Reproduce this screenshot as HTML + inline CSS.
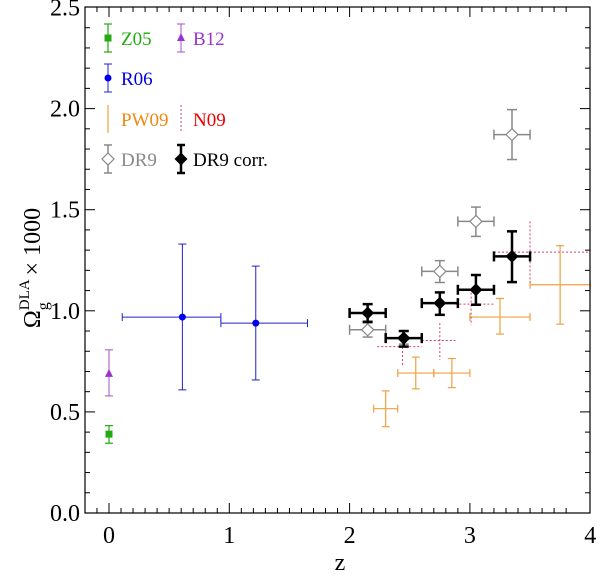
<!DOCTYPE html>
<html><head><meta charset="utf-8"><style>
html,body{margin:0;padding:0;background:#fff;}
svg, svg text{font-family:"Liberation Serif","DejaVu Serif",serif !important;}
</style></head><body>
<svg id="chart" width="600" height="575" viewBox="0 0 600 575" xmlns="http://www.w3.org/2000/svg" font-family="Liberation Serif, serif">
<g id="marks"></g>
<g id="axes"></g>
<text x="340" y="570" font-size="24" text-anchor="middle" font-family="Liberation Serif, serif">z</text>
<g transform="translate(40,268) rotate(-90)">
<text x="0" y="0" font-size="24" text-anchor="middle" font-family="Liberation Serif, serif">Ω<tspan font-size="16" dy="8">g</tspan><tspan font-size="15" dy="-19" dx="-8">DLA</tspan><tspan font-size="24" dy="11" dx="4">× 1000</tspan></text>
</g>
<g id="legend"></g>
</svg>
<script>
const NS="http://www.w3.org/2000/svg";
const xTicks=[0,1,2,3,4];
const yTicks=[0.0,0.5,1.0,1.5,2.0,2.5];
const z05Z=[0.0], z05O=[0.39], z05Lo=[0.345], z05Hi=[0.432];
const b12Z=[0.0], b12O=[0.688], b12Lo=[0.579], b12Hi=[0.807];
const r06Z=[0.61,1.22], r06O=[0.969,0.939], r06ZLo=[0.11,0.93], r06ZHi=[0.93,1.65], r06Lo=[0.609,0.658], r06Hi=[1.33,1.221];
const pwZ=[2.30,2.55,2.85,3.25,3.75], pwO=[0.516,0.692,0.692,0.969,1.129], pwZLo=[2.2,2.4,2.7,3.0,3.5], pwZHi=[2.4,2.7,3.0,3.5,4.0], pwLo=[0.427,0.614,0.62,0.885,0.934], pwHi=[0.604,0.771,0.764,1.061,1.322];
const n09Z=[2.44,2.75,3.01,3.5], n09O=[0.823,0.853,1.033,1.29], n09ZLo=[2.23,2.6,2.88,3.2], n09ZHi=[2.6,2.88,3.2,4.0], n09Lo=[0.725,0.757,0.93,1.137], n09Hi=[0.9,0.939,1.09,1.442];
const dr9Z=[2.15,2.45,2.75,3.05,3.35], dr9O=[0.906,0.865,1.195,1.442,1.871], dr9ZLo=[2.0,2.3,2.6,2.9,3.2], dr9ZHi=[2.3,2.6,2.9,3.2,3.5], dr9Lo=[0.87,0.835,1.14,1.368,1.748], dr9Hi=[0.95,0.9,1.248,1.513,1.995];
const dcZ=[2.15,2.45,2.75,3.05,3.35], dcO=[0.989,0.865,1.038,1.104,1.269], dcZLo=[2.0,2.3,2.6,2.9,3.2], dcZHi=[2.3,2.6,2.9,3.2,3.5], dcLo=[0.944,0.823,0.98,1.03,1.142], dcHi=[1.033,0.9,1.091,1.177,1.393];

const L=85,R=590,T=7,B=513;
const FF="Liberation Serif, serif";
function X(z){return 109+z*120.3;}
function Y(o){return 513-o*202.2;}
function el(tag,attrs,parent){const e=document.createElementNS(NS,tag);for(const k in attrs)e.setAttribute(k,attrs[k]);parent.appendChild(e);return e;}
const marks=document.getElementById('marks'), axes=document.getElementById('axes'), leg=document.getElementById('legend');

function errBar(parent,x,y,x1,x2,y1,y2,color,w,cap,dash){
  const g=el('g',{stroke:color,'stroke-width':w,fill:'none'},parent);
  if(dash)g.setAttribute('stroke-dasharray',dash);
  if(y1!==null){el('line',{x1:x,x2:x,y1:y1,y2:y2},g);
    if(cap){el('line',{x1:x-cap,x2:x+cap,y1:y1,y2:y1},g);el('line',{x1:x-cap,x2:x+cap,y1:y2,y2:y2},g);}}
  if(x1!==null){el('line',{x1:x1,x2:x2,y1:y,y2:y},g);
    if(cap){el('line',{x1:x1,x2:x1,y1:y-cap,y2:y+cap},g);el('line',{x1:x2,x2:x2,y1:y-cap,y2:y+cap},g);}}
  return g;
}
for(let i=0;i<z05Z.length;i++){
  const g=errBar(marks,X(z05Z[i]),Y(z05O[i]),null,null,Y(z05Hi[i]),Y(z05Lo[i]),'#22aa11',1.2,4);
  
  
  el('rect',{x:X(z05Z[i])-3.5,y:Y(z05O[i])-3.5,width:7,height:7,fill:'#22aa11',stroke:'none'},g);
}
for(let i=0;i<b12Z.length;i++){
  const x=X(b12Z[i]),y=Y(b12O[i]);
  const g=errBar(marks,x,y,null,null,Y(b12Hi[i]),Y(b12Lo[i]),'#a050c8',1,4);
  
  
  el('polygon',{points:`${x},${y-5} ${x-4},${y+3} ${x+4},${y+3}`,fill:'#9933cc',stroke:'none'},g);
}
for(let i=0;i<r06Z.length;i++){
  const x=X(r06Z[i]),y=Y(r06O[i]);
  const g=errBar(marks,x,y,X(r06ZLo[i]),X(r06ZHi[i]),Y(r06Hi[i]),Y(r06Lo[i]),'#2222cc',1,4);
  
  
  el('circle',{cx:x,cy:y,r:3.5,fill:'#0000ee',stroke:'none'},g);
}
for(let i=0;i<pwZ.length;i++){
  const g=errBar(marks,X(pwZ[i]),Y(pwO[i]),X(pwZLo[i]),X(pwZHi[i]),Y(pwHi[i]),Y(pwLo[i]),'#f0a040',1.2,4);
  
  
}
for(let i=0;i<n09Z.length;i++){
  const g=errBar(marks,X(n09Z[i]),Y(n09O[i]),X(n09ZLo[i]),X(n09ZHi[i]),Y(n09Hi[i]),Y(n09Lo[i]),'#d8406a',1,0,'2,2');
  
  
}
for(let i=0;i<dr9Z.length;i++){
  const x=X(dr9Z[i]),y=Y(dr9O[i]);
  const g=errBar(marks,x,y,X(dr9ZLo[i]),X(dr9ZHi[i]),Y(dr9Hi[i]),Y(dr9Lo[i]),'#888',1.5,5);
  
  
  el('polygon',{points:`${x},${y-6} ${x+6},${y} ${x},${y+6} ${x-6},${y}`,fill:'#fff',stroke:'#888','stroke-width':1.2},g);
}
for(let i=0;i<dcZ.length;i++){
  const x=X(dcZ[i]),y=Y(dcO[i]);
  const g=errBar(marks,x,y,X(dcZLo[i]),X(dcZHi[i]),Y(dcHi[i]),Y(dcLo[i]),'#000',2.5,5);
  
  
  el('polygon',{points:`${x},${y-6.5} ${x+6.5},${y} ${x},${y+6.5} ${x-6.5},${y}`,fill:'#000',stroke:'none'},g);
}
el('rect',{x:L,y:T,width:R-L,height:B-T,fill:'none',stroke:'#000','stroke-width':1.2},axes);
for(let v=0;v<=40;v++){const z=-0.2+v*0.1;if(z<-0.15)continue;const zz=Math.round(z*10)/10;const x=X(zz);if(x>R-1)continue;
  const major=Math.abs(zz-Math.round(zz))<1e-6;const len=major?10:5;
  el('line',{x1:x,x2:x,y1:B,y2:B-len,stroke:'#000','stroke-width':1},axes);
  el('line',{x1:x,x2:x,y1:T,y2:T+len,stroke:'#000','stroke-width':1},axes);}
for(let v=1;v<25;v++){const y=Y(v*0.1);const major=v%5===0;const len=major?10:5;
  el('line',{x1:L,x2:L+len,y1:y,y2:y,stroke:'#000','stroke-width':1},axes);
  el('line',{x1:R,x2:R-len,y1:y,y2:y,stroke:'#000','stroke-width':1},axes);}
for(const t of xTicks){const tx=el('text',{x:X(t),y:B+30,'font-size':24,'text-anchor':'middle','font-family':FF},axes);tx.textContent=t;
  
  }
for(const t of yTicks){const tx=el('text',{x:L-5,y:Y(t)+8,'font-size':24,'text-anchor':'end','font-family':FF},axes);tx.textContent=t.toFixed(1);
  
  }
function legEntry(name,x,y,color,kind,w,dash){
  const g=el('g',{},leg);
  
  
  errBar(g,x,y,null,null,y-14,y+14,color,w,kind==='none'?0:4,dash);
  if(kind==='sq')el('rect',{x:x-3.5,y:y-3.5,width:7,height:7,fill:color},g);
  if(kind==='tri')el('polygon',{points:`${x},${y-5} ${x-4},${y+3} ${x+4},${y+3}`,fill:'#9933cc'},g);
  if(kind==='circ')el('circle',{cx:x,cy:y,r:3.5,fill:'#0000ee'},g);
  if(kind==='dia')el('polygon',{points:`${x},${y-6} ${x+6},${y} ${x},${y+6} ${x-6},${y}`,fill:'#fff',stroke:color,'stroke-width':1.2},g);
  if(kind==='fdia')el('polygon',{points:`${x},${y-6.5} ${x+6.5},${y} ${x},${y+6.5} ${x-6.5},${y}`,fill:'#000'},g);
  return g;
}
function legText(x,y,txt,color){const t=el('text',{x:x,y:y+7,'font-size':19,fill:color,'font-family':FF},leg);t.textContent=txt;return t;}
legEntry('legend-z05',108,38,'#22aa11','sq',1.2);legText(121,38,'Z05','#22aa11');
legEntry('legend-b12',181,38,'#a050c8','tri',1);legText(193,38,'B12','#9933cc');
legEntry('legend-r06',108,78,'#2222cc','circ',1);legText(121,78,'R06','#0000dd');
legEntry('legend-pw09',108,119,'#f0a040','none',1.2);legText(121,119,'PW09','#f08a10');
legEntry('legend-n09',181,119,'#d8406a','none',1,'2,2');legText(193,119,'N09','#ee0000');
legEntry('legend-dr9',108,159,'#888','dia',1.5);legText(121,159,'DR9','#888');
legEntry('legend-dr9-corr',181,159,'#000','fdia',2.5);legText(193,159,'DR9 corr.','#000');
</script>
</body></html>
